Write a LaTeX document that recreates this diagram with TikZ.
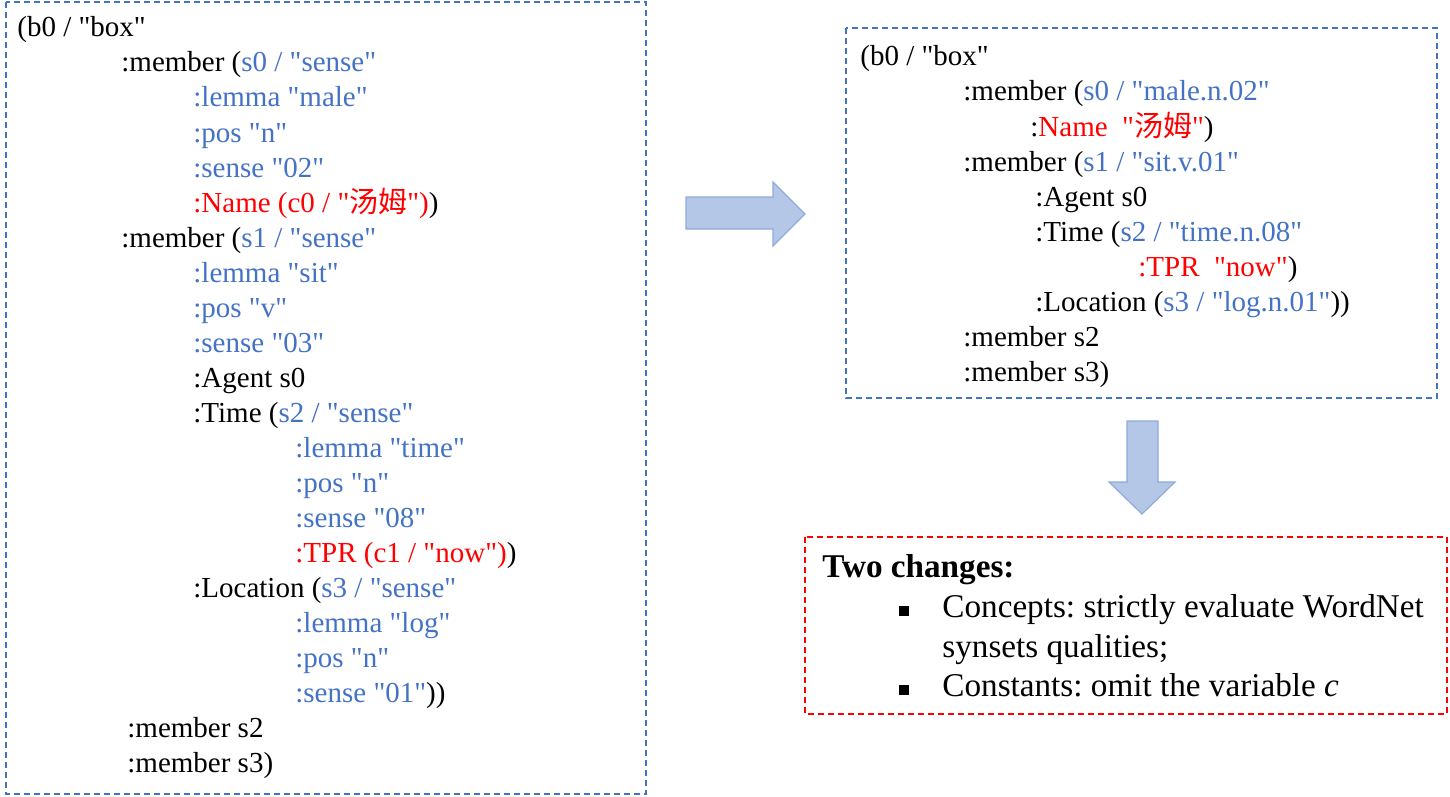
\documentclass[tikz,border=0pt]{standalone}
\usepackage{fontspec}
\setmainfont{Liberation Serif}[Ligatures=TeXOff]
\newfontfamily\cjk{Noto Sans CJK SC}
\definecolor{ablue}{HTML}{4472C4}
\definecolor{ared}{HTML}{FF0000}
\definecolor{afill}{HTML}{B4C7E7}
\definecolor{aedge}{HTML}{8FAADC}
\newcommand{\bl}[1]{\textcolor{ablue}{#1}}
\newcommand{\rd}[1]{\textcolor{ared}{#1}}
\frenchspacing
\begin{document}
\begin{tikzpicture}[x=0.5pt,y=-0.5pt,
  ln/.style={anchor=base west,inner sep=0pt,font=\fontsize{14.5}{17.5}\selectfont},
  rl/.style={anchor=base west,inner sep=0pt,font=\fontsize{16.6}{20}\selectfont},
  bx/.style={draw=ablue,line width=1pt,dash pattern=on 3pt off 2pt},
  rbx/.style={draw=ared,line width=1pt,dash pattern=on 3pt off 2pt},
  blockarrow/.style={fill=afill,draw=aedge,line width=0.6pt}]
\useasboundingbox (0,0) rectangle (1450,797);
% boxes
\draw[bx] (6,2) rectangle (646,794);
\draw[bx] (846,28) rectangle (1437,398);
\draw[rbx] (805,537) rectangle (1447,714);
% arrows
\draw[blockarrow] (686,197) -- (773,197) -- (773,182) -- (805,214) -- (773,246) -- (773,229) -- (686,229) -- cycle;
\draw[blockarrow] (1127,421) -- (1158,421) -- (1158,482) -- (1175,482) -- (1142,514) -- (1109,482) -- (1127,482) -- cycle;
% left box
\node[ln] (l1) at (17,37) {(b0 / "box"};
\node[ln] (l2) at (121,72) {:member (\bl{s0 / "sense"}};
\node[ln] (l3) at (193,107) {\bl{:lemma "male"}};
\node[ln] (l4) at (193,142) {\bl{:pos "n"}};
\node[ln] (l5) at (193,177) {\bl{:sense "02"}};
\node[ln] (l6) at (193,212) {\rd{:Name (c0 / "{\cjk 汤姆}")})};
\node[ln] (l7) at (121,247) {:member (\bl{s1 / "sense"}};
\node[ln] (l8) at (193,282) {\bl{:lemma "sit"}};
\node[ln] (l9) at (193,317) {\bl{:pos "v"}};
\node[ln] (l10) at (193,352) {\bl{:sense "03"}};
\node[ln] (l11) at (193,387) {:Agent s0};
\node[ln] (l12) at (193,422) {:Time (\bl{s2 / "sense"}};
\node[ln] (l13) at (295,457) {\bl{:lemma "time"}};
\node[ln] (l14) at (295,492) {\bl{:pos "n"}};
\node[ln] (l15) at (295,527) {\bl{:sense "08"}};
\node[ln] (l16) at (295,562) {\rd{:TPR (c1 / "now")})};
\node[ln] (l17) at (193,597) {:Location (\bl{s3 / "sense"}};
\node[ln] (l18) at (295,632) {\bl{:lemma "log"}};
\node[ln] (l19) at (295,667) {\bl{:pos "n"}};
\node[ln] (l20) at (295,702) {\bl{:sense "01"}))};
\node[ln] (l21) at (127,737) {:member s2};
\node[ln] (l22) at (127,772) {:member s3)};
% right box
\node[ln] (r1) at (860,66) {(b0 / "box"};
\node[ln] (r2) at (963,101) {:member (\bl{s0 / "male.n.02"}};
\node[ln] (r3) at (1030,136) {:\rd{Name~~"{\cjk 汤姆}"})};
\node[ln] (r4) at (963,171) {:member (\bl{s1 / "sit.v.01"}};
\node[ln] (r5) at (1035,206) {:Agent s0};
\node[ln] (r6) at (1035,241) {:Time (\bl{s2 / "time.n.08"}};
\node[ln] (r7) at (1138,276) {\rd{:TPR~~"now"})};
\node[ln] (r8) at (1035,311) {:Location (\bl{s3 / "log.n.01"}))};
\node[ln] (r9) at (963,346) {:member s2};
\node[ln] (r10) at (963,381) {:member s3)};
% red box
\node[rl,font=\fontsize{16.6}{20}\selectfont\bfseries] (t0) at (822,577) {Two changes:};
\node[rl] (b1) at (899,616) {\rule{5pt}{5pt}};
\node[rl] (t1) at (942,617) {Concepts: strictly evaluate WordNet};
\node[rl] (t2) at (942,657) {synsets qualities;};
\node[rl] (b2) at (899,695) {\rule{5pt}{5pt}};
\node[rl] (t3) at (942,696) {Constants: omit the variable \textit{c}};
\end{tikzpicture}
\end{document}
